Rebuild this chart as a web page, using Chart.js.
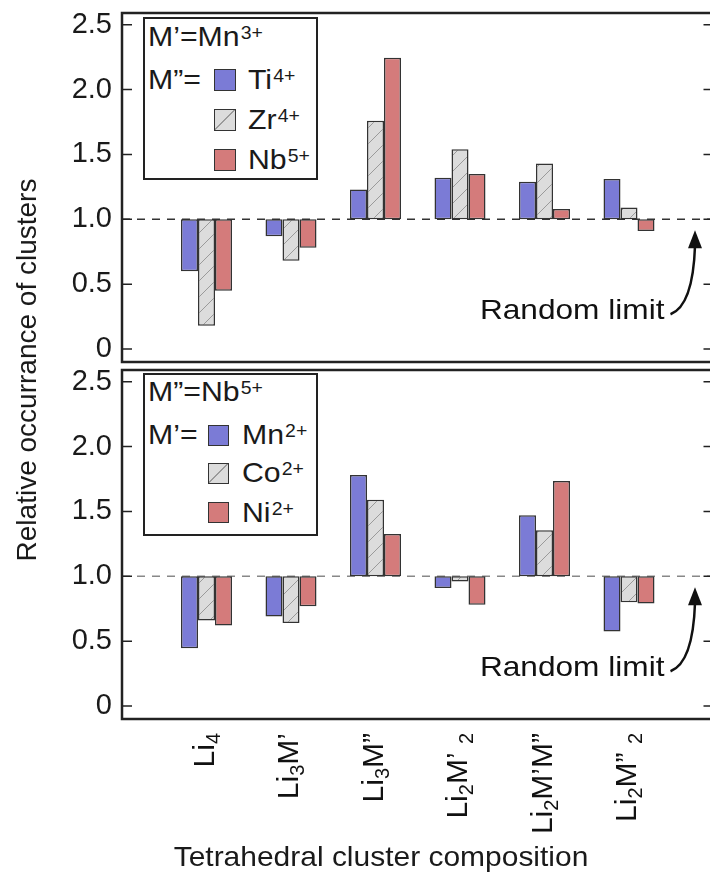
<!DOCTYPE html>
<html>
<head>
<meta charset="utf-8">
<script src="https://cdn.jsdelivr.net/npm/chart.js@4.4.1/dist/chart.umd.min.js"></script>
<style>
html,body{margin:0;padding:0;background:#fff;overflow:hidden;width:710px;height:888px;}
#wrap{position:relative;width:710px;height:888px;overflow:hidden;font-family:"Liberation Sans",Arial,Helvetica,sans-serif;color:#1a1a1a;}
canvas{position:absolute;left:0;}
.t{position:absolute;white-space:nowrap;font-size:28px;line-height:28px;height:28px;transform-origin:0 50%;}
.t sup{font-size:18px;line-height:0;vertical-align:7px;margin-left:1px;}
.box{position:absolute;box-sizing:border-box;border:2px solid #222;background:#fff;}
.sw{position:absolute;box-sizing:border-box;border:1.5px solid #333;}
</style>
</head>
<body>
<div id="wrap">
  <canvas id="cTop" width="716" height="366" style="top:0;width:716px;height:366px;"></canvas>
  <canvas id="cBot" width="716" height="522" style="top:366px;width:716px;height:522px;"></canvas>
  <div id="legends"></div>
  <div class="t" id="ytitle" style="left:-223px;top:356px;width:500px;text-align:center;transform-origin:50% 50%;transform:rotate(-90deg);">Relative occurrance of clusters</div>
  <div class="t" id="xtitle" style="left:381px;top:843px;transform-origin:50% 50%;transform:translateX(-50%) scaleX(1.07);">Tetrahedral cluster composition</div>
</div>
<script>
// ---------------- data ----------------
// "_d" marks a subscript digit; blank categories pad both ends of the axis
const categories = ["", "Li_4", "Li_3M\u2019", "Li_3M\u201D", "Li_2M\u2019 _2", "Li_2M\u2019M\u201D", "Li_2M\u201D _2", ""];
const yTicks = [0, 0.5, 1.0, 1.5, 2.0, 2.5];
const yTickLabels = ["0", "0.5", "1.0", "1.5", "2.0", "2.5"];
const refLevel = 1.0;
const randomLabel = "Random limit";

// top panel: M' = Mn3+, M'' varies
const topHeader = ["M\u2019=Mn", "3+"];
const topRowLabel = "M\u201D=";
const topNames = ["Ti", "Zr", "Nb"];
const topCharges = ["4+", "4+", "5+"];
const topTi = [0.60, 0.87, 1.23, 1.32, 1.29, 1.31];
const topZr = [0.18, 0.68, 1.76, 1.54, 1.43, 1.09];
const topNb = [0.45, 0.78, 2.245, 1.35, 1.08, 0.91];

// bottom panel: M'' = Nb5+, M' varies
const botHeader = ["M\u201D=Nb", "5+"];
const botRowLabel = "M\u2019=";
const botNames = ["Mn", "Co", "Ni"];
const botCharges = ["2+", "2+", "2+"];
const botMn = [0.445, 0.69, 1.78, 0.91, 1.47, 0.575];
const botCo = [0.66, 0.64, 1.59, 0.96, 1.355, 0.80];
const botNi = [0.62, 0.77, 1.325, 0.78, 1.735, 0.79];

// ---------------- styling ----------------
const FONT = '"Liberation Sans", Arial, Helvetica, sans-serif';
const BLUE = '#7b7bd6', RED = '#d47b7b', GRAYFILL = '#dcdcdc', HATCH = '#9a9a9a', EDGE = '#333';

function pad(arr) { return [null, ...arr, null]; }

function hatchPattern(ctx) {
  const c = document.createElement('canvas'); c.width = 16; c.height = 16;
  const g = c.getContext('2d');
  g.fillStyle = GRAYFILL; g.fillRect(0, 0, 16, 16);
  g.strokeStyle = HATCH; g.lineWidth = 1;
  g.beginPath();
  g.moveTo(-2, 18); g.lineTo(18, -2);
  g.moveTo(-2, 2); g.lineTo(2, -2);
  g.moveTo(14, 18); g.lineTo(18, 14);
  g.stroke();
  return ctx.createPattern(c, 'repeat');
}

function parseLabel(s) {
  const segs = []; let cur = '';
  for (let i = 0; i < s.length; i++) {
    if (s[i] === '_' && i + 1 < s.length) {
      if (cur) segs.push({ t: cur, sub: false }); cur = '';
      segs.push({ t: s[i + 1], sub: true }); i++;
    } else cur += s[i];
  }
  if (cur) segs.push({ t: cur, sub: false });
  return segs;
}

const panelPlugin = {
  id: 'panel',
  beforeDatasetsDraw(chart, args, o) {
    const { ctx, chartArea: a, scales: { y } } = chart;
    const py = y.getPixelForValue(refLevel);
    ctx.save();
    ctx.setLineDash([8, 7]); ctx.lineWidth = 1.5; ctx.strokeStyle = o.dashColor;
    ctx.beginPath(); ctx.moveTo(a.left, py); ctx.lineTo(a.right, py); ctx.stroke();
    ctx.restore();
  },
  afterDraw(chart, args, o) {
    const { ctx, chartArea: a, scales: { x, y } } = chart;
    ctx.save();
    // frame
    ctx.strokeStyle = '#222'; ctx.lineWidth = 2.5;
    ctx.strokeRect(a.left, a.top, a.right - a.left, a.bottom - a.top);
    // inward tick marks
    ctx.lineWidth = 1.5;
    yTicks.forEach(v => {
      const py = y.getPixelForValue(v);
      ctx.beginPath();
      ctx.moveTo(a.left, py); ctx.lineTo(a.left + 10, py);
      ctx.moveTo(a.right - 10, py); ctx.lineTo(a.right, py);
      ctx.stroke();
    });
    // "Random limit" annotation with arrow pointing at reference line
    const py = y.getPixelForValue(refLevel);
    const xr = x.getPixelForValue(categories.length - 1);
    ctx.fillStyle = '#111';
    ctx.font = '28px ' + FONT;
    ctx.save();
    ctx.translate(xr - 49, py + 100);
    ctx.scale(1.13, 1);
    ctx.textAlign = 'right'; ctx.textBaseline = 'alphabetic';
    ctx.fillText(randomLabel, 0, 0);
    ctx.restore();
    ctx.strokeStyle = '#111'; ctx.lineWidth = 2.5;
    ctx.beginPath();
    ctx.moveTo(xr - 43, py + 95);
    ctx.bezierCurveTo(xr - 30, py + 90, xr - 20, py + 70, xr - 18.5, py + 27);
    ctx.stroke();
    ctx.beginPath();
    ctx.moveTo(xr - 18.5, py + 11);
    ctx.lineTo(xr - 25.5, py + 29);
    ctx.lineTo(xr - 11.5, py + 29);
    ctx.closePath(); ctx.fill();
    // category labels (bottom panel only)
    if (o.xLabels) {
      for (let i = 1; i < categories.length - 1; i++) {
        const segs = parseLabel(categories[i]);
        const px = x.getPixelForValue(i);
        let total = 0;
        segs.forEach(s => { ctx.font = (s.sub ? '20px ' : '30px ') + FONT; s.w = ctx.measureText(s.t).width; total += s.w; });
        ctx.save();
        ctx.translate(px - 4, a.bottom + 14);
        ctx.rotate(-Math.PI / 2);
        ctx.textAlign = 'left'; ctx.textBaseline = 'alphabetic'; ctx.fillStyle = '#111';
        let cx = -total;
        segs.forEach(s => {
          ctx.font = (s.sub ? '20px ' : '30px ') + FONT;
          ctx.fillText(s.t, cx, s.sub ? 17 : 11);
          cx += s.w;
        });
        ctx.restore();
      }
    }
    ctx.restore();
  }
};

function makeChart(id, series, colors, padTop, padBottom, dashColor, xLabels) {
  const canvas = document.getElementById(id);
  const ctx = canvas.getContext('2d');
  const pat = hatchPattern(ctx);
  const fills = colors.map(c => c === 'hatch' ? pat : c);
  return new Chart(ctx, {
    type: 'bar',
    data: {
      labels: categories,
      datasets: series.map((s, k) => ({
        label: s.name, data: pad(s.data), base: refLevel,
        backgroundColor: fills[k], borderColor: EDGE, borderWidth: 1.5, borderSkipped: false,
        categoryPercentage: 0.6036, barPercentage: 1.0
      }))
    },
    options: {
      responsive: false, animation: false, devicePixelRatio: 1,
      layout: { padding: { top: padTop, bottom: padBottom, left: 0, right: 2.5 } },
      plugins: { legend: { display: false }, tooltip: { enabled: false }, panel: { dashColor, xLabels } },
      scales: {
        x: { type: 'category', offset: false, display: false, grid: { offset: false, display: false } },
        y: {
          min: -0.1, max: 2.59,
          afterBuildTicks: s => { s.ticks = yTicks.map(v => ({ value: v })); },
          afterFit: s => { s.width = 122; s.paddingTop = 0; s.paddingBottom = 0; },
          grid: { display: false, drawTicks: false },
          border: { display: false },
          ticks: {
            padding: 10, color: '#1a1a1a', font: { family: FONT, size: 29 },
            callback: v => yTickLabels[yTicks.indexOf(v)]
          }
        }
      }
    },
    plugins: [panelPlugin]
  });
}

makeChart('cTop', [
  { name: topNames[0], data: topTi }, { name: topNames[1], data: topZr }, { name: topNames[2], data: topNb }
], [BLUE, 'hatch', RED], 13, 4, '#333', false);

makeChart('cBot', [
  { name: botNames[0], data: botMn }, { name: botNames[1], data: botCo }, { name: botNames[2], data: botNi }
], [BLUE, 'hatch', RED], 4, 169, '#888', true);

// ---------------- legends (HTML) ----------------
function legend(L) {
  const host = document.getElementById('legends');
  const box = document.createElement('div');
  box.className = 'box';
  Object.assign(box.style, { left: L.box[0] + 'px', top: L.box[1] + 'px', width: L.box[2] + 'px', height: L.box[3] + 'px' });
  host.appendChild(box);
  const txt = (html, left, cy) => {
    const d = document.createElement('div');
    d.className = 't'; d.innerHTML = html;
    Object.assign(d.style, { left: left + 'px', top: (cy - 14) + 'px', transform: 'scaleX(1.08)' });
    host.appendChild(d);
  };
  txt(L.header[0] + '<sup>' + L.header[1] + '</sup>', 148, L.headerY);
  txt(L.rowLabel, 148, L.rows[0]);
  L.names.forEach((n, k) => {
    const s = document.createElement('div');
    s.className = 'sw';
    const sz = L.sw[1];
    Object.assign(s.style, { left: L.sw[0] + 'px', top: (L.rows[k] - sz / 2) + 'px', width: sz + 'px', height: sz + 'px' });
    if (k === 0) s.style.background = BLUE;
    else if (k === 2) s.style.background = RED;
    else s.style.background = 'linear-gradient(to bottom right, ' + GRAYFILL + ' 46%, ' + HATCH + ' 46%, ' + HATCH + ' 52%, ' + GRAYFILL + ' 52%)';
    host.appendChild(s);
    txt(n + '<sup>' + L.charges[k] + '</sup>', L.textX, L.rows[k]);
  });
}
legend({ box: [143, 17, 175, 163], header: topHeader, headerY: 37, rowLabel: topRowLabel, names: topNames, charges: topCharges, rows: [80, 119.5, 159.5], sw: [214, 22], textX: 248 });
legend({ box: [143, 373, 175, 163], header: botHeader, headerY: 392, rowLabel: botRowLabel, names: botNames, charges: botCharges, rows: [435, 473, 512.5], sw: [208, 21], textX: 242 });
</script>
</body>
</html>
